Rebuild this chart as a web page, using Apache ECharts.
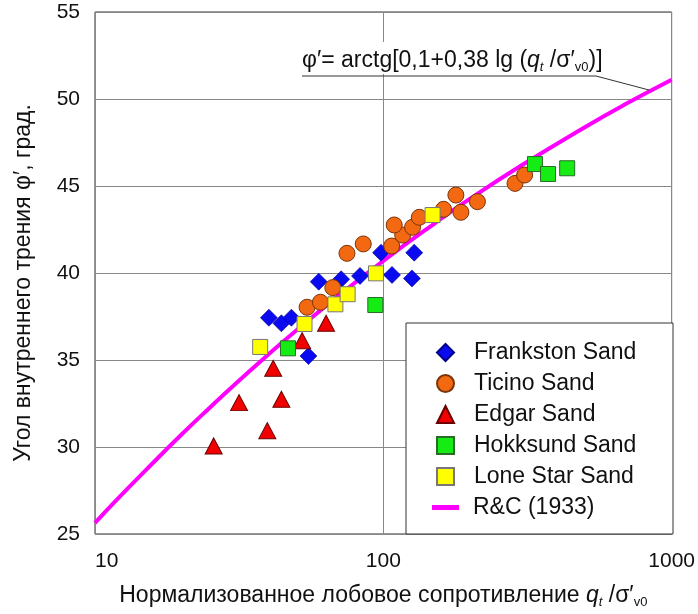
<!DOCTYPE html>
<html>
<head>
<meta charset="utf-8">
<script src="https://cdn.jsdelivr.net/npm/echarts@6/dist/echarts.min.js"></script>
<style>
html,body{margin:0;padding:0;background:#fff;}
#chart{width:698px;height:614px;}
</style>
</head>
<body>
<div id="chart"></div>
<script>
// ---- data ----
const xTicks = [10, 100, 1000];
const yTicks = [25, 30, 35, 40, 45, 50, 55];

const frankstonX = [40.1, 44.3, 48.0, 55.0, 59.7, 71.4, 83.0, 98.2, 107.2, 125.7, 128];
const frankstonY = [37.43, 37.11, 37.43, 35.23, 39.5, 39.64, 39.83, 41.17, 39.89, 39.69, 41.17];

const ticinoX = [54.4, 60.5, 66.8, 74.8, 85.2, 106.9, 116.7, 109.1, 126.3, 133.3, 161.8, 178.5, 185.8, 212, 286.2, 309];
const ticinoY = [38.03, 38.32, 39.16, 41.13, 41.67, 41.55, 42.18, 42.76, 42.63, 43.2, 43.66, 44.48, 43.49, 44.10, 45.15, 45.63];

const edgarX = [25.8, 31.6, 39.6, 41.5, 44.3, 52.3, 63.3];
const edgarY = [30.06, 32.55, 30.94, 34.52, 32.74, 36.11, 37.11];

const hokksundX = [46.7, 93.8, 335.7, 372.6, 434.2];
const hokksundY = [35.67, 38.16, 46.26, 45.69, 46.02];

const loneStarX = [37.4, 53.3, 68.2, 75.2, 94.3, 148.2];
const loneStarY = [35.75, 37.07, 38.2, 38.78, 39.98, 43.33];

const rcX = [10, 12, 15, 20, 25, 30, 40, 50, 70, 100, 150, 200, 300, 500, 700, 1000];
const rcY = [25.64, 27.03, 28.67, 30.73, 32.26, 33.48, 35.33, 36.71, 38.70, 40.70, 42.83, 44.27, 46.16, 48.38, 49.75, 51.11];

const scatterNames = ['Frankston Sand', 'Ticino Sand', 'Edgar Sand', 'Hokksund Sand', 'Lone Star Sand'];
const lineName = 'R&C (1933)';

// ---- chart ----
const FONT = '"Liberation Sans", Arial, sans-serif';
const zip = (xs, ys) => xs.map((x, i) => [x, ys[i]]);

const chart = echarts.init(document.getElementById('chart'), null, {renderer: 'canvas'});

const scatterBase = {type: 'scatter', z: 3};
const richTitle = (fs, lh) => ({
  a: {fontSize: fs, color: '#111', fill: '#111', fontFamily: FONT, lineHeight: lh},
  i: {fontSize: fs, color: '#111', fill: '#111', fontFamily: FONT, fontStyle: 'italic', lineHeight: lh},
  si: {fontSize: 13, color: '#111', fill: '#111', fontFamily: FONT, fontStyle: 'italic', verticalAlign: 'bottom', lineHeight: lh},
  s: {fontSize: 13, color: '#111', fill: '#111', fontFamily: FONT, verticalAlign: 'bottom', lineHeight: lh}
});

const option = {
  animation: false,
  backgroundColor: '#fff',
  textStyle: {fontFamily: FONT},
  grid: {left: 95, right: 25, top: 12, bottom: 80, show: true, borderColor: '#333', borderWidth: 1, backgroundColor: '#fff'},
  xAxis: {
    type: 'log', logBase: 10, min: xTicks[0], max: xTicks[xTicks.length - 1],
    axisLine: {show: false}, axisTick: {show: false},
    axisLabel: {fontSize: 21, color: '#111', margin: 17, fontFamily: FONT, alignMinLabel: 'left',
      formatter: v => String(Math.round(v))},
    splitLine: {show: true, lineStyle: {color: '#888', width: 1}},
    name: '{a|Нормализованное лобовое сопротивление }{i|q}{si|t}{a| /σ′}{s|v0}',
    nameLocation: 'middle', nameGap: 48,
    nameTextStyle: {fontSize: 23, color: '#111', fontFamily: FONT, rich: richTitle(23, 27)}
  },
  yAxis: {
    type: 'value', min: yTicks[0], max: yTicks[yTicks.length - 1], interval: 5,
    axisLine: {show: false}, axisTick: {show: false},
    axisLabel: {fontSize: 21, color: '#111', margin: 15, fontFamily: FONT},
    splitLine: {show: true, lineStyle: {color: '#888', width: 1}},
    name: 'Угол внутреннего трения φ′, град.',
    nameLocation: 'middle', nameGap: 60, nameRotate: 90,
    nameTextStyle: {fontSize: 23, color: '#111', fontFamily: FONT, padding: [0, 20, 0, 0]}
  },
  legend: [
    {
      data: scatterNames,
      orient: 'vertical', left: 436, top: 337, padding: 0,
      itemWidth: 17, itemHeight: 17, itemGap: 0,
      z: 10,
      formatter: name => '{g|}' + name,
      textStyle: {fontSize: 23, color: '#111', fontFamily: FONT, lineHeight: 31, rich: {g: {width: 15}}}
    },
    {
      data: [lineName],
      orient: 'vertical', left: 432, top: 492, padding: 0,
      itemWidth: 27, itemHeight: 5, itemGap: 0, icon: 'rect',
      z: 10,
      formatter: name => '{g|}' + name,
      textStyle: {fontSize: 23, color: '#111', fontFamily: FONT, lineHeight: 31, rich: {g: {width: 9}}}
    }
  ],
  graphic: [
    {type: 'rect', z: 5, shape: {x: 406, y: 323, width: 267, height: 211}, style: {fill: '#fff', stroke: '#333', lineWidth: 1}},
    {type: 'text', z: 6, left: 300, top: 42,
      style: {
        text: '{a|φ′= arctg[0,1+0,38 lg (}{i|q}{si|t}{a| /σ′}{s|v0}{a|)]}',
        backgroundColor: '#fff',
        padding: [6, 2, 0, 2],
        rich: richTitle(23, 26)
      }
    },
    {type: 'polyline', z: 7, shape: {points: [[302, 76], [596, 76], [649, 90]]}, style: {stroke: '#333', lineWidth: 1, fill: null}}
  ],
  series: [
    {
      name: lineName, type: 'line', data: zip(rcX, rcY), smooth: true,
      symbol: 'none', showSymbol: false, z: 2,
      lineStyle: {color: '#ff00ff', width: 4},
      itemStyle: {color: '#ff00ff'}
    },
    Object.assign({}, scatterBase, {
      name: 'Frankston Sand', data: zip(frankstonX, frankstonY), symbol: 'diamond', symbolSize: 17,
      itemStyle: {color: '#0a0af0', borderColor: '#00008a', borderWidth: 0.6, opacity: 1}
    }),
    Object.assign({}, scatterBase, {
      name: 'Ticino Sand', data: zip(ticinoX, ticinoY), symbol: 'circle', symbolSize: 16,
      itemStyle: {color: '#f26912', borderColor: '#7a3408', borderWidth: 1, opacity: 1}
    }),
    Object.assign({}, scatterBase, {
      name: 'Edgar Sand', data: zip(edgarX, edgarY), symbol: 'triangle', symbolSize: [17, 16],
      itemStyle: {color: '#f20000', borderColor: '#6a0000', borderWidth: 1, opacity: 1}
    }),
    Object.assign({}, scatterBase, {
      name: 'Hokksund Sand', data: zip(hokksundX, hokksundY), symbol: 'rect', symbolSize: 15,
      itemStyle: {color: '#14ec14', borderColor: '#2a6a2a', borderWidth: 1, opacity: 1}
    }),
    Object.assign({}, scatterBase, {
      name: 'Lone Star Sand', data: zip(loneStarX, loneStarY), symbol: 'rect', symbolSize: 15,
      itemStyle: {color: '#ffff00', borderColor: '#777', borderWidth: 1, opacity: 1}
    })
  ]
};

chart.setOption(option);
</script>
</body>
</html>
